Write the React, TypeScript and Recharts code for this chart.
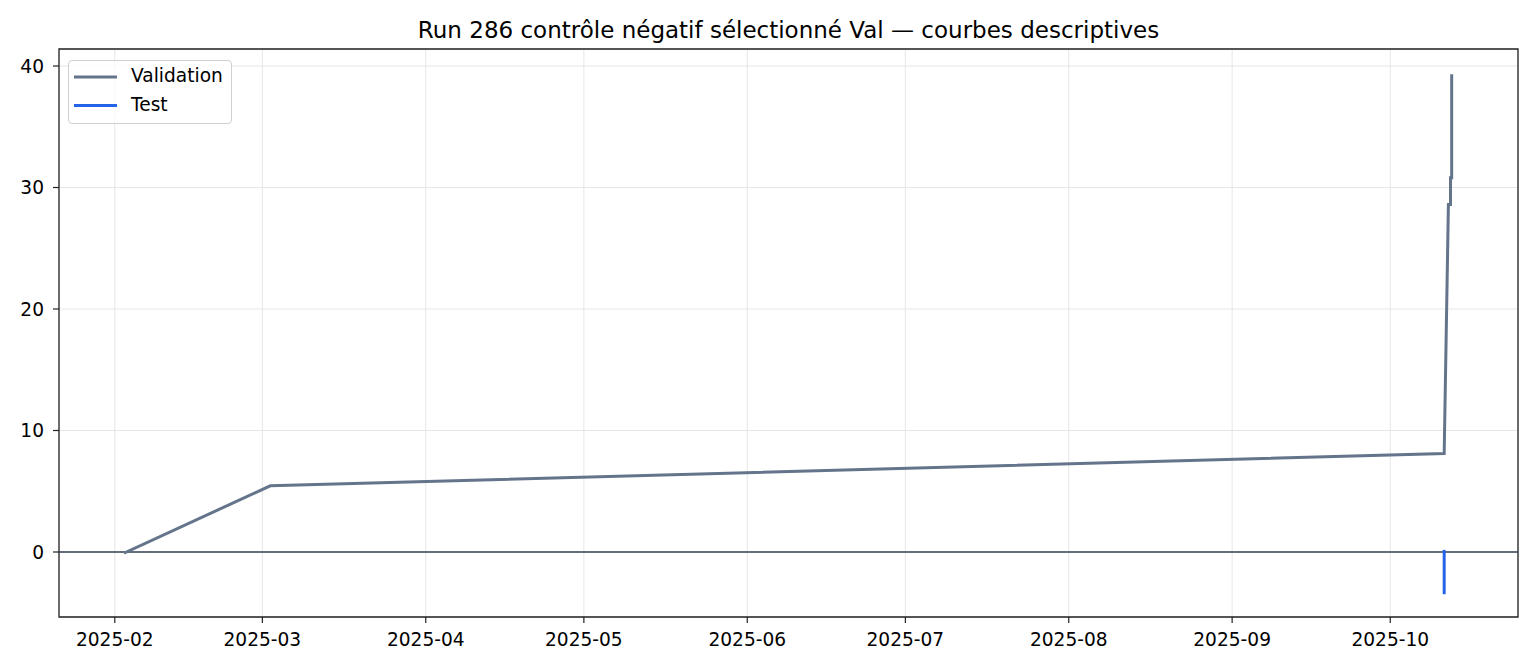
import React from "react";
import {
  LineChart,
  Line,
  XAxis,
  YAxis,
  CartesianGrid,
  ReferenceLine,
  ReferenceArea,
} from "recharts";

const ts = (s: string) => Date.parse(s + "Z");

// Validation series
const validationDates = [
  "2025-02-03T00:00:00",
  "2025-03-02T12:00:00",
  "2025-10-11T05:30:00",
  "2025-10-12T00:45:00",
  "2025-10-12T10:20:00",
  "2025-10-12T10:20:00",
  "2025-10-12T15:40:00",
  "2025-10-12T15:40:00",
];
const validationValues = [-0.05, 5.45, 8.1, 28.6, 28.6, 30.8, 30.8, 39.2];

// Test series
const testDates = ["2025-10-11T05:30:00", "2025-10-11T05:30:00"];
const testValues = [0.05, -3.35];

// Tick labels
const xTickLabels = [
  "2025-02-01",
  "2025-03-01",
  "2025-04-01",
  "2025-05-01",
  "2025-06-01",
  "2025-07-01",
  "2025-08-01",
  "2025-09-01",
  "2025-10-01",
];
const yTicks = [0, 10, 20, 30, 40];
const yDomain: [number, number] = [-5.35, 41.4];

const TITLE = "Run 286 contrôle négatif sélectionné Val — courbes descriptives";
const VAL_COLOR = "#64748b";
const TEST_COLOR = "#2563eb";
const FONT = "'DejaVu Sans', sans-serif";

const validationData = validationDates.map((d, i) => ({ t: ts(d), v: validationValues[i] }));
const testData = testDates.map((d, i) => ({ t: ts(d), v: testValues[i] }));
const xTicks = xTickLabels.map((d) => ts(d + "T00:00:00"));

const allT = [...validationData, ...testData].map((p) => p.t);
const tMin = Math.min(...allT);
const tMax = Math.max(...allT);
const pad = (tMax - tMin) * 0.05;
const xDomain: [number, number] = [tMin - pad, tMax + pad];

const fmtMonth = (v: number) => {
  const d = new Date(v);
  const m = d.getUTCMonth() + 1;
  return `${d.getUTCFullYear()}-${m < 10 ? "0" + m : m}`;
};

const legendItems = [
  { name: "Validation", color: VAL_COLOR, y: 16 },
  { name: "Test", color: TEST_COLOR, y: 44.5 },
];

const LegendBox = () => (
  <div
    style={{
      position: "absolute",
      left: 68,
      top: 60,
      width: 164,
      height: 64,
      border: "1px solid #d0d0d0",
      borderRadius: 4,
      background: "rgba(255,255,255,0.8)",
      boxSizing: "border-box",
      fontFamily: FONT,
      fontSize: 18.6,
      color: "#000",
    }}
  >
    {legendItems.map((e) => (
      <div key={e.name} style={{ position: "absolute", left: 0, top: 0, width: "100%" }}>
        <svg width={60} height={70} style={{ position: "absolute", left: 0, top: 0 }}>
          <line x1={5} x2={48} y1={e.y} y2={e.y} stroke={e.color} strokeWidth={3} />
        </svg>
        <span
          style={{
            position: "absolute",
            left: 62,
            top: e.y - 12,
            lineHeight: "22px",
            whiteSpace: "nowrap",
          }}
        >
          {e.name}
        </span>
      </div>
    ))}
  </div>
);

export default function App() {
  return (
    <div style={{ position: "absolute", left: 0, top: 0, width: 1540, height: 672, background: "#fff" }}>
      <LineChart
        width={1540}
        height={672}
        margin={{ top: 49, right: 22, bottom: 0, left: 0 }}
        style={{ fontFamily: FONT }}
      >
        <CartesianGrid stroke="#e6e6e6" strokeWidth={1} />
        <XAxis
          dataKey="t"
          type="number"
          scale="time"
          domain={xDomain}
          ticks={xTicks}
          tickFormatter={fmtMonth}
          allowDataOverflow
          height={55}
          axisLine={false}
          tickLine={{ stroke: "#222", strokeWidth: 1.2 }}
          tickSize={6}
          tickMargin={10}
          tick={{ fontSize: 18.6, fill: "#000", fontFamily: FONT }}
          interval={0}
        />
        <YAxis
          type="number"
          domain={yDomain}
          ticks={yTicks}
          allowDataOverflow
          width={59}
          axisLine={false}
          tickLine={{ stroke: "#222", strokeWidth: 1.2 }}
          tickSize={6}
          tickMargin={9}
          tick={{ fontSize: 18.6, fill: "#000", fontFamily: FONT }}
          interval={0}
        />
        <ReferenceLine y={0} stroke="#334155" strokeWidth={1.4} ifOverflow="extendDomain" />
        <Line
          data={validationData}
          dataKey="v"
          name="Validation"
          stroke={VAL_COLOR}
          strokeWidth={3}
          dot={false}
          activeDot={false}
          isAnimationActive={false}
          strokeLinejoin="miter"
          strokeLinecap="square"
        />
        <Line
          data={testData}
          dataKey="v"
          name="Test"
          stroke={TEST_COLOR}
          strokeWidth={3}
          dot={false}
          activeDot={false}
          isAnimationActive={false}
          strokeLinecap="square"
        />
        <ReferenceArea
          x1={xDomain[0]}
          x2={xDomain[1]}
          y1={yDomain[0]}
          y2={yDomain[1]}
          fill="none"
          fillOpacity={0}
          stroke="#222"
          strokeWidth={1.3}
          ifOverflow="visible"
        />
      </LineChart>
      <svg
        width={1540}
        height={60}
        style={{ position: "absolute", left: 0, top: 0, pointerEvents: "none" }}
      >
        <text x={788.5} y={37.5} textAnchor="middle" fontFamily={FONT} fontSize={23} fill="#000">
          {TITLE}
        </text>
      </svg>
      <LegendBox />
    </div>
  );
}
